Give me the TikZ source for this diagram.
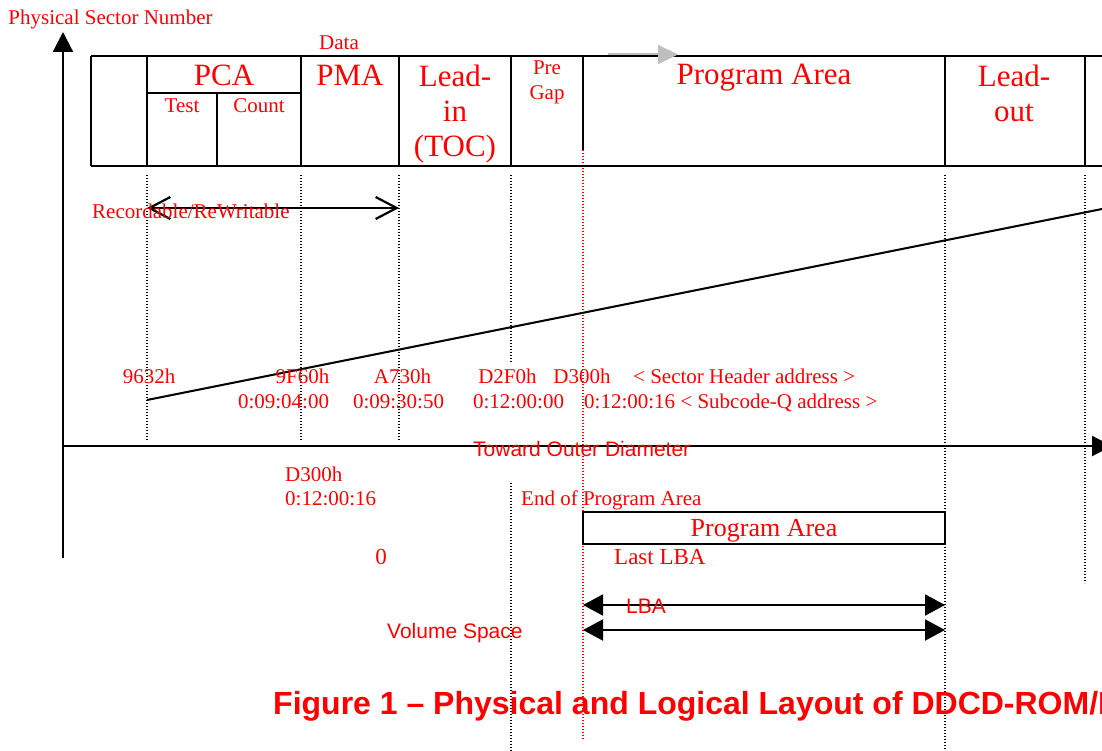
\documentclass[tikz,border=0pt]{standalone}
\usepackage{fontspec}
\setmainfont{Liberation Serif}
\setsansfont{Liberation Sans}
\usetikzlibrary{arrows.meta,positioning}

\begin{document}
\begin{tikzpicture}[x=1pt,y=-1pt]
		\tikzstyle{every node}+=[inner sep=0pt,text=red]
		\tikzstyle{lbl}=[font=\fontsize{21}{25}\selectfont,anchor=base]
		\tikzstyle{big}=[font=\fontsize{31}{35}\selectfont,anchor=base,align=center]
		\tikzstyle{sanslbl}=[font=\sffamily\fontsize{21}{25}\selectfont,anchor=base west]
		\tikzstyle{frame}=[line width=2pt,black]
		\tikzstyle{guide}=[line width=1.5pt,dash pattern=on 1.2pt off 1.8pt]
		\tikzstyle{axis}=[line width=2.2pt,-{Triangle[length=20pt,width=20pt]}]
		\tikzstyle{span}=[line width=2pt,{Triangle[length=20pt,width=21pt]}-{Triangle[length=20pt,width=21pt]}]
		\useasboundingbox (0,0) rectangle (1102,751);
		% dotted guides under the boundaries
		\foreach \x in {147,301,399}
			\draw [guide] (\x,175) -- (\x,440);
		\draw [guide] (511,175) -- (511,362);
		\draw [guide] (511,483) -- (511,751);
		\draw [guide] (945,175) -- (945,751);
		\draw [guide] (1085,175) -- (1085,583);
		\draw [guide,red] (583,150) -- (583,740);
		% area table (multi-line labels sit on their last baseline)
		\draw [frame] (91,56) -- (1110,56);
		\draw [frame] (91,166) -- (1110,166);
		\foreach \x in {91,147,301,399,511,945,1085}
			\draw [frame] (\x,56) -- (\x,166);
		\draw [frame] (583,56) -- (583,150);
		\draw [frame] (147,93) -- (301,93);
		\draw [frame] (217,93) -- (217,166);
		\node [lbl] (data) at (339,50) {Data};
		\node [big] (pca) at (224,86) {PCA};
		\node [lbl] (test) at (182,113) {Test};
		\node [lbl] (count) at (259,113) {Count};
		\node [big] (pma) at (350,86) {PMA};
		\node [big] (leadin) at (455,157) {Lead-\\in\\(TOC)};
		\node [lbl,align=center] (pregap) at (547,100) {Pre\\Gap};
		\node [big] (progarea) at (764,85) {Program Area};
		\node [big] (leadout) at (1014,122) {Lead-\\out};
		\coordinate (dir-a) at (608,54.5);
		\coordinate (dir-b) at (678,54.5);
		\draw [line width=2pt,gray!50,-{Triangle[length=20pt,width=19pt]}] (dir-a) -- (dir-b);
		% axes
		\coordinate (origin) at (63,446);
		\coordinate (ytip) at (63,32);
		\coordinate (ybot) at (63,558);
		\coordinate (xtip) at (1112,446);
		\draw [axis] (ybot) -- (ytip);
		\draw [axis] (origin) -- (xtip);
		\node [lbl] (psn) at (110.5,25) {Physical Sector Number};
		\node [sanslbl] (toward) at (473,456) {Toward Outer Diameter};
		% sector number against radius
		\coordinate (psn-a) at (147,400);
		\coordinate (psn-b) at (1102,209);
		\draw [line width=2pt] (psn-a) -- (psn-b);
		% recordable range
		\coordinate (rw-a) at (147,208);
		\coordinate (rw-b) at (399,208);
		\draw [line width=2.2pt,{Straight Barb[length=21pt,width=22pt]}-{Straight Barb[length=21pt,width=22pt]}] (rw-a) -- (rw-b);
		\node [lbl,anchor=base west] (rw) at (92,219) {Recordable/ReWritable};
		% addresses
		\node [lbl] (a1) at (149,383) {9632h};
		\node [lbl] (a2) at (302.5,383) {9F60h};
		\node [lbl] (a3) at (402.5,383) {A730h};
		\node [lbl] (a4) at (507.5,383) {D2F0h};
		\node [lbl] (a5) at (582,383) {D300h};
		\node [lbl,anchor=base west] (hdr) at (633,383) {< Sector Header address >};
		\node [lbl] (t2) at (283.5,408) {0:09:04:00};
		\node [lbl] (t3) at (398.5,408) {0:09:30:50};
		\node [lbl] (t4) at (518.5,408) {0:12:00:00};
		\node [lbl,anchor=base west] (t5) at (584,408) {0:12:00:16 < Subcode-Q address >};
		% logical side
		\node [lbl,anchor=base west] (d300) at (285,481) {D300h};
		\node [lbl,anchor=base west] (msf) at (285,505) {0:12:00:16};
		\node [lbl,anchor=base west] (endpa) at (521,505) {End of Program Area};
		\node [draw=black,line width=2pt,minimum width=362pt,minimum height=32pt,text depth=0pt,
			font=\fontsize{26}{30}\selectfont] (pabox) at (764,528) {Program Area};
		\node [lbl,font=\fontsize{23}{27}\selectfont] (zero) at (381,564) {0};
		\node [lbl,font=\fontsize{23}{27}\selectfont,anchor=base west] (lastlba) at (614,564) {Last LBA};
		\coordinate (lba-a) at (583,605);
		\coordinate (lba-b) at (945,605);
		\coordinate (vs-a) at (583,630);
		\coordinate (vs-b) at (945,630);
		\draw [span] (lba-a) -- (lba-b);
		\draw [span] (vs-a) -- (vs-b);
		\node [sanslbl] (lba) at (626,613) {LBA};
		\node [sanslbl] (volsp) at (387,638) {Volume Space};
		\node [font=\sffamily\bfseries\fontsize{32}{38}\selectfont,anchor=base west] (caption) at (273,714)
			{Figure 1 – Physical and Logical Layout of DDCD-ROM/R};
\end{tikzpicture}
\end{document}
